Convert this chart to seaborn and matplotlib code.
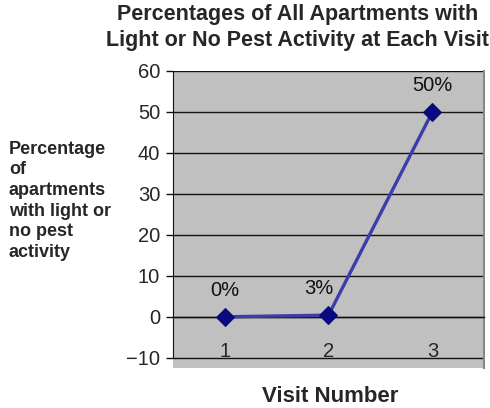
import matplotlib
matplotlib.use('Agg')
import matplotlib.pyplot as plt
import seaborn as sns
import pandas as pd

visits = [1, 2, 3]
pct_values = [0, 0.4, 50]
point_labels = ['0%', '3%', '50%']
y_ticks = [-10, 0, 10, 20, 30, 40, 50, 60]
y_tick_labels = ['\u221210', '0', '10', '20', '30', '40', '50', '60']


def main():
    sns.set_style('white')
    plt.rcParams['font.family'] = ['Liberation Sans', 'DejaVu Sans']

    df = pd.DataFrame({'Visit': visits, 'Pct': pct_values})

    fig = plt.figure(figsize=(4.9, 4.08), dpi=100)
    ax = fig.add_axes([0.3524, 0.098, 0.636, 0.728])
    ax.set_facecolor('#c0c0c0')

    sns.lineplot(data=df, x='Visit', y='Pct', ax=ax, color='#3c3caa', linewidth=2.4,
                 marker='D', markersize=9, markerfacecolor='#0a0a80',
                 markeredgecolor='#0a0a80', zorder=5)

    # "3%" label sits a little left of its point in the original
    x_shift = [0, -7, 0]
    for x, y, lab, dx in zip(visits, pct_values, point_labels, x_shift):
        ax.annotate(lab, (x, y), xytext=(dx, 12), textcoords='offset points',
                    ha='center', va='bottom', fontsize=14.5, color='#111111')

    ax.set_xlim(0.5, 3.5)
    ax.set_ylim(-12.5, 60)
    ax.set_yticks(y_ticks)
    ax.set_yticklabels(y_tick_labels, fontsize=14.5)
    for y in y_ticks:
        ax.axhline(y, color='#111111', linewidth=1, zorder=1)

    # category axis crosses at zero
    ax.spines['bottom'].set_position(('data', 0))
    ax.spines['bottom'].set_color('#111111')
    ax.spines['bottom'].set_linewidth(1)
    ax.set_xticks(visits)
    ax.set_xticklabels([str(v) for v in visits], fontsize=14.5)
    ax.set_xticks([1.5, 2.5], minor=True)
    ax.tick_params(axis='x', which='major', length=0, pad=18)
    ax.tick_params(axis='x', which='minor', length=4, width=1, direction='out', color='#111111')
    ax.spines['left'].set_bounds(-10, 60)
    ax.spines['left'].set_color('#111111')
    ax.tick_params(axis='y', which='major', length=5, width=1, direction='out',
                   color='#111111', left=True, pad=4)
    ax.spines['top'].set_visible(False)
    ax.spines['right'].set_visible(True)
    ax.spines['right'].set_color('#888888')
    ax.spines['right'].set_linewidth(1.5)
    ax.set_xlabel('')
    ax.set_ylabel('')

    fig.text(0.607, 0.99, 'Percentages of All Apartments with\nLight or No Pest Activity at Each Visit',
             ha='center', va='top', fontsize=15.5, fontweight='bold', linespacing=1.3)
    fig.text(0.018, 0.655, 'Percentage\nof\napartments\nwith light or\nno pest\nactivity',
             ha='left', va='top', fontsize=13, fontweight='bold', linespacing=1.28)
    fig.text(0.673, 0.003, 'Visit Number', ha='center', va='bottom', fontsize=16, fontweight='bold')

    fig.savefig('out.png', dpi=100)
    plt.close(fig)


if __name__ == '__main__':
    main()
